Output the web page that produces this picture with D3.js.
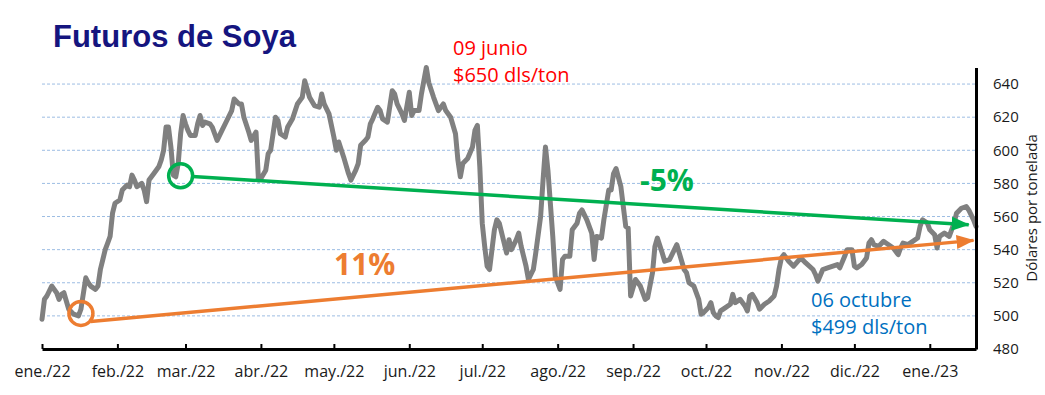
<!DOCTYPE html>
<html>
<head>
<meta charset="utf-8">
<script src="https://cdn.jsdelivr.net/npm/d3@7/dist/d3.min.js"></script>
<style>
  html, body { margin: 0; padding: 0; background: #ffffff; }
  svg { display: block; }
</style>
</head>
<body>
<svg id="chart" width="1045" height="395"></svg>
<script>
// ---------- DATA ----------
const title = "Futuros de Soya";
const yAxisTitle = "Dólares por tonelada";

const dates = [
  "2022-01-01","2022-01-02","2022-01-03","2022-01-05","2022-01-07","2022-01-08","2022-01-09","2022-01-10",
  "2022-01-11","2022-01-12","2022-01-14","2022-01-16","2022-01-17","2022-01-19","2022-01-20","2022-01-21",
  "2022-01-23","2022-01-24","2022-01-25","2022-01-26","2022-01-27","2022-01-28","2022-01-29","2022-01-30",
  "2022-01-31","2022-02-02","2022-02-03","2022-02-05","2022-02-06","2022-02-07","2022-02-08","2022-02-09",
  "2022-02-11","2022-02-12","2022-02-13","2022-02-14","2022-02-16","2022-02-18","2022-02-19","2022-02-20",
  "2022-02-21","2022-02-22","2022-02-23","2022-02-24","2022-02-25","2022-02-26","2022-02-27","2022-02-28",
  "2022-03-01","2022-03-02","2022-03-03","2022-03-05","2022-03-06","2022-03-07","2022-03-08","2022-03-09",
  "2022-03-11","2022-03-12","2022-03-14","2022-03-16","2022-03-18","2022-03-20","2022-03-21","2022-03-23",
  "2022-03-24","2022-03-25","2022-03-27","2022-03-28","2022-03-30","2022-03-31","2022-04-01","2022-04-03",
  "2022-04-04","2022-04-05","2022-04-07","2022-04-08","2022-04-09","2022-04-11","2022-04-12","2022-04-14",
  "2022-04-16","2022-04-18","2022-04-19","2022-04-21","2022-04-23","2022-04-25","2022-04-26","2022-04-27",
  "2022-04-29","2022-05-01","2022-05-02","2022-05-03","2022-05-05","2022-05-07","2022-05-08","2022-05-10",
  "2022-05-11","2022-05-12","2022-05-14","2022-05-15","2022-05-16","2022-05-17","2022-05-19","2022-05-20",
  "2022-05-21","2022-05-23","2022-05-25","2022-05-26","2022-05-27","2022-05-29","2022-05-30","2022-06-01",
  "2022-06-02","2022-06-03","2022-06-05","2022-06-06","2022-06-08","2022-06-09","2022-06-11","2022-06-13",
  "2022-06-15","2022-06-16","2022-06-18","2022-06-20","2022-06-21","2022-06-22","2022-06-23","2022-06-25",
  "2022-06-27","2022-06-28","2022-06-29","2022-06-30","2022-07-01","2022-07-02","2022-07-03","2022-07-04",
  "2022-07-06","2022-07-07","2022-07-08","2022-07-10","2022-07-11","2022-07-12","2022-07-13","2022-07-15",
  "2022-07-16","2022-07-17","2022-07-19","2022-07-20","2022-07-22","2022-07-23","2022-07-25","2022-07-26",
  "2022-07-27","2022-07-28","2022-07-29","2022-07-30","2022-07-31","2022-08-02","2022-08-03","2022-08-04",
  "2022-08-06","2022-08-07","2022-08-09","2022-08-10","2022-08-11","2022-08-13","2022-08-15","2022-08-16",
  "2022-08-17","2022-08-19","2022-08-20","2022-08-22","2022-08-23","2022-08-24","2022-08-25","2022-08-27",
  "2022-08-28","2022-08-29","2022-08-30","2022-08-31","2022-09-02","2022-09-04","2022-09-06","2022-09-07",
  "2022-09-09","2022-09-10","2022-09-11","2022-09-13","2022-09-14","2022-09-16","2022-09-18","2022-09-19",
  "2022-09-20","2022-09-22","2022-09-23","2022-09-24","2022-09-26","2022-09-28","2022-09-29","2022-09-30",
  "2022-10-02","2022-10-03","2022-10-04","2022-10-05","2022-10-06","2022-10-07","2022-10-09","2022-10-11",
  "2022-10-12","2022-10-13","2022-10-15","2022-10-17","2022-10-18","2022-10-19","2022-10-20","2022-10-22",
  "2022-10-23","2022-10-25","2022-10-27","2022-10-29","2022-10-30","2022-10-31","2022-11-01","2022-11-02",
  "2022-11-04","2022-11-06","2022-11-09","2022-11-11","2022-11-14","2022-11-15","2022-11-16","2022-11-18",
  "2022-11-20","2022-11-24","2022-11-25","2022-11-27","2022-11-28","2022-11-30","2022-12-01","2022-12-02",
  "2022-12-04","2022-12-06","2022-12-07","2022-12-08","2022-12-09","2022-12-11","2022-12-13","2022-12-14",
  "2022-12-17","2022-12-19","2022-12-20","2022-12-21","2022-12-23","2022-12-25","2022-12-27","2022-12-28",
  "2022-12-29","2022-12-31","2023-01-01","2023-01-03","2023-01-04","2023-01-05","2023-01-07","2023-01-09",
  "2023-01-11","2023-01-12","2023-01-14","2023-01-16","2023-01-17","2023-01-19","2023-01-20"
];
const prices = [
  498,510,512,518,514,510,513,514,
  509,504,501,500,504,523,520,518,
  516,518,528,534,540,544,548,562,
  568,570,576,579,578,585,582,578,
  580,576,569,582,586,590,594,600,
  614,614,602,585,584,592,610,621,
  616,612,609,609,616,621,615,617,
  616,614,606,612,618,624,631,628,
  628,620,611,606,611,582,583,588,
  598,600,620,618,610,608,614,619,
  628,632,642,632,627,626,634,628,
  622,608,600,605,596,586,582,588,
  592,603,606,608,616,619,626,624,
  619,617,636,634,628,622,618,635,
  621,624,624,634,650,641,632,624,
  628,624,620,610,594,584,592,595,
  602,612,615,590,556,542,530,528,
  552,558,556,544,538,546,540,546,
  550,542,530,522,528,538,560,582,
  602,588,568,548,524,516,534,536,
  536,552,556,562,564,558,550,534,
  548,547,558,576,576,586,589,578,
  566,554,553,512,522,518,510,511,
  526,542,547,538,533,534,540,543,
  538,528,526,520,518,510,501,502,
  505,508,502,500,499,503,505,507,
  513,508,510,506,503,512,513,508,
  504,507,509,512,518,528,535,537,
  533,530,535,532,528,525,521,528,
  529,531,529,536,540,540,530,529,
  531,535,544,546,543,542,545,544,
  541,537,541,544,543,545,547,554,
  558,556,552,549,541,548,550,548,
  556,562,565,566,564,558,554
];

const yDomain = [480, 650];
const yTicks = [480, 500, 520, 540, 560, 580, 600, 620, 640];
const gridValues = [500, 520, 540, 560, 580, 600, 620, 640];
const monthTickDates = [
  "2022-01-01","2022-02-01","2022-03-01","2022-04-01","2022-05-01","2022-06-01","2022-07-01",
  "2022-08-01","2022-09-01","2022-10-01","2022-11-01","2022-12-01","2023-01-01"
];
const monthLabels = [
  "ene./22","feb./22","mar./22","abr./22","may./22","jun./22","jul./22",
  "ago./22","sep./22","oct./22","nov./22","dic./22","ene./23"
];

// Trend annotations (date, value)
const greenCircle = ["2022-02-27", 584.6];
const greenArrowEnd = ["2023-01-17", 555];
const orangeCircle = ["2022-01-17", 501.5];
const orangeArrowStart = ["2022-01-21", 496.6];
const orangeArrowEnd = ["2023-01-19", 545.6];
const greenLabel = "-5%";
const orangeLabel = "11%";
const peakLabel = ["09 junio", "$650 dls/ton"];
const lowLabel = ["06 octubre", "$499 dls/ton"];

// ---------- CHART ----------
const parse = d3.timeParse("%Y-%m-%d");
const series = dates.map((d, i) => ({ date: parse(d), value: prices[i] }));

const svg = d3.select("#chart");
const plotLeft = 42, plotRight = 976, plotTop = 67.5, plotBottom = 349;

const x = d3.scaleTime().domain(d3.extent(series, d => d.date)).range([plotLeft, plotRight]);
const y = d3.scaleLinear().domain(yDomain).range([plotBottom, plotTop]);

const colors = {
  line: "#808080", grid: "#9dbde3", green: "#00B050", orange: "#ED7D31",
  red: "#FF0000", blue: "#0070C0", title: "#15157f"
};

// Gridlines
svg.append("g").selectAll("line").data(gridValues).join("line")
  .attr("x1", plotLeft).attr("x2", plotRight)
  .attr("y1", d => y(d)).attr("y2", d => y(d))
  .attr("stroke", colors.grid).attr("stroke-width", 1)
  .attr("stroke-dasharray", "3,2");

// Main series
const line = d3.line().x(d => x(d.date)).y(d => y(d.value));
svg.append("path").datum(series)
  .attr("d", line)
  .attr("fill", "none")
  .attr("stroke", colors.line)
  .attr("stroke-width", 5)
  .attr("stroke-linejoin", "round")
  .attr("stroke-linecap", "round");

// Arrow markers
const defs = svg.append("defs");
function marker(id, color) {
  defs.append("marker")
    .attr("id", id)
    .attr("markerUnits", "userSpaceOnUse")
    .attr("viewBox", "0 -8 18 16")
    .attr("refX", 17).attr("refY", 0)
    .attr("markerWidth", 18).attr("markerHeight", 16)
    .attr("orient", "auto")
    .append("path").attr("d", "M0,-7L18,0L0,7Z").attr("fill", color);
}
marker("arrGreen", colors.green);
marker("arrOrange", colors.orange);

const circleR = 12;
// Green trend
{
  const cx = x(parse(greenCircle[0])), cy = y(greenCircle[1]);
  const ex = x(parse(greenArrowEnd[0])), ey = y(greenArrowEnd[1]);
  const ang = Math.atan2(ey - cy, ex - cx);
  svg.append("line")
    .attr("x1", cx + circleR * Math.cos(ang)).attr("y1", cy + circleR * Math.sin(ang))
    .attr("x2", ex).attr("y2", ey)
    .attr("stroke", colors.green).attr("stroke-width", 3.5)
    .attr("marker-end", "url(#arrGreen)");
  svg.append("circle").attr("cx", cx).attr("cy", cy).attr("r", circleR)
    .attr("fill", "none").attr("stroke", colors.green).attr("stroke-width", 3.5);
}
// Orange trend
{
  const cx = x(parse(orangeCircle[0])), cy = y(orangeCircle[1]);
  svg.append("line")
    .attr("x1", x(parse(orangeArrowStart[0]))).attr("y1", y(orangeArrowStart[1]))
    .attr("x2", x(parse(orangeArrowEnd[0]))).attr("y2", y(orangeArrowEnd[1]))
    .attr("stroke", colors.orange).attr("stroke-width", 3.5)
    .attr("marker-end", "url(#arrOrange)");
  svg.append("circle").attr("cx", cx).attr("cy", cy).attr("r", circleR)
    .attr("fill", "none").attr("stroke", colors.orange).attr("stroke-width", 3.5);
}

// Axes
const xAxis = d3.axisBottom(x)
  .tickValues(monthTickDates.map(parse))
  .tickFormat((d, i) => monthLabels[i])
  .tickSize(-5).tickSizeOuter(0);
const gx = svg.append("g").attr("transform", `translate(0,${plotBottom})`).call(xAxis);
gx.select(".domain").attr("stroke", "#000").attr("stroke-width", 3);
gx.selectAll(".tick line").attr("stroke", "#000").attr("stroke-width", 2);
gx.selectAll(".tick text")
  .attr("y", 28).attr("dy", null)
  .attr("fill", "#1a1a1a")
  .style("font-family", "'Open Sans', sans-serif").style("font-size", "16px");

const yAxis = d3.axisRight(y).tickValues(yTicks).tickSize(0).tickSizeOuter(0).tickPadding(17);
const gy = svg.append("g").attr("transform", `translate(${plotRight},0)`).call(yAxis);
gy.select(".domain").attr("stroke", "#000").attr("stroke-width", 3);
gy.selectAll(".tick text")
  .attr("fill", "#1a1a1a")
  .style("font-family", "'Open Sans', sans-serif").style("font-size", "15px");

// Axis title
svg.append("text")
  .attr("transform", "translate(1037,208) rotate(-90)")
  .attr("text-anchor", "middle")
  .attr("fill", "#1a1a1a")
  .style("font-family", "'Open Sans', sans-serif").style("font-size", "15px")
  .text(yAxisTitle);

// Title
svg.append("text")
  .attr("x", 53).attr("y", 47)
  .attr("fill", colors.title)
  .style("font-family", "'Liberation Sans', Arial, sans-serif")
  .style("font-weight", "bold").style("font-size", "31px")
  .text(title);

// Annotations
function twoLine(lines, x0, y0, color) {
  lines.forEach((t, i) => {
    svg.append("text").attr("x", x0).attr("y", y0 + i * 27)
      .attr("fill", color)
      .style("font-family", "'Open Sans', sans-serif").style("font-size", "20px")
      .text(t);
  });
}
twoLine(peakLabel, 453, 55, colors.red);
twoLine(lowLabel, 811, 307, colors.blue);

svg.append("text").attr("x", 640).attr("y", 191)
  .attr("fill", colors.green)
  .style("font-family", "'Open Sans', sans-serif").style("font-weight", "bold").style("font-size", "30px")
  .text(greenLabel);
svg.append("text").attr("x", 334).attr("y", 275)
  .attr("fill", colors.orange)
  .style("font-family", "'Open Sans', sans-serif").style("font-weight", "bold").style("font-size", "30px")
  .text(orangeLabel);
</script>
</body>
</html>
